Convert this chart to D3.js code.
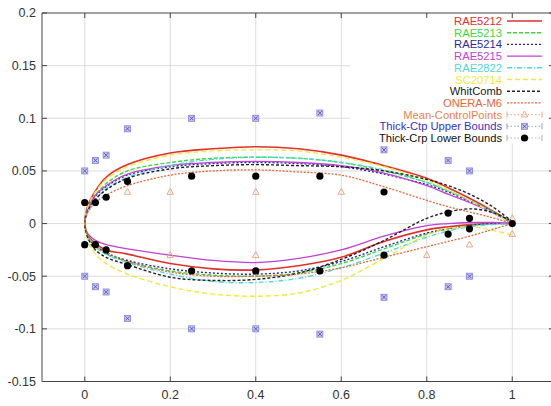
<!DOCTYPE html>
<html>
<head>
<meta charset="utf-8">
<script src="https://cdn.jsdelivr.net/npm/d3@7/dist/d3.min.js"></script>
<style>
  html, body { margin: 0; padding: 0; background: #fff; }
  svg { display: block; font-family: "Liberation Sans", Arial, sans-serif; }
</style>
</head>
<body>
<svg id="chart" width="551" height="406"></svg>
<script>
// chord stations shared by every section (x/c)
const stations = [0, 0.005, 0.0125, 0.025, 0.05, 0.1, 0.2, 0.3, 0.4, 0.5, 0.6, 0.7, 0.8, 0.85, 0.9, 0.95, 1];

// upper / lower surfaces
const rae5212Up = [0, 0.014, 0.022, 0.031, 0.044, 0.056, 0.067, 0.071, 0.073, 0.071, 0.065, 0.055, 0.043, 0.034, 0.024, 0.013, 0.001];
const rae5212Lo = [0, -0.009, -0.014, -0.019, -0.025, -0.029, -0.038, -0.043, -0.044, -0.040, -0.032, -0.017, -0.006, -0.003, -0.001, 0, 0];
const rae5213Up = [0, 0.012, 0.019, 0.027, 0.038, 0.050, 0.058, 0.062, 0.063, 0.062, 0.058, 0.050, 0.039, 0.031, 0.022, 0.012, 0.001];
const rae5213Lo = [0, -0.010, -0.016, -0.022, -0.029, -0.036, -0.045, -0.049, -0.050, -0.047, -0.038, -0.024, -0.010, -0.005, -0.002, 0, 0];
const rae5214Up = [0, 0.011, 0.018, 0.026, 0.035, 0.046, 0.054, 0.057, 0.058, 0.057, 0.054, 0.047, 0.037, 0.030, 0.021, 0.012, 0.001];
const rae5214Lo = [0, -0.010, -0.016, -0.021, -0.028, -0.035, -0.043, -0.047, -0.048, -0.045, -0.036, -0.022, -0.009, -0.005, -0.002, 0, 0];
const rae5215Up = [0, 0.012, 0.019, 0.027, 0.036, 0.047, 0.055, 0.058, 0.059, 0.058, 0.055, 0.048, 0.036, 0.028, 0.020, 0.011, 0];
const rae5215Lo = [0, -0.008, -0.012, -0.016, -0.020, -0.024, -0.030, -0.035, -0.037, -0.033, -0.025, -0.012, -0.002, 0, 0.001, 0.001, 0];
const rae2822Up = [0, 0.010, 0.016, 0.023, 0.033, 0.044, 0.055, 0.061, 0.063, 0.062, 0.058, 0.051, 0.039, 0.031, 0.022, 0.012, 0.001];
const rae2822Lo = [0, -0.009, -0.015, -0.021, -0.029, -0.037, -0.048, -0.055, -0.056, -0.052, -0.042, -0.028, -0.013, -0.007, -0.003, -0.001, 0];
const sc20714Up = [0, 0.013, 0.021, 0.030, 0.042, 0.054, 0.065, 0.069, 0.070, 0.069, 0.063, 0.054, 0.041, 0.032, 0.022, 0.011, 0];
const sc20714Lo = [0, -0.013, -0.021, -0.029, -0.038, -0.048, -0.060, -0.067, -0.069, -0.066, -0.054, -0.033, -0.011, -0.005, -0.003, -0.006, -0.011];
const whitUp = [0, 0.010, 0.016, 0.023, 0.032, 0.043, 0.052, 0.055, 0.056, 0.055, 0.054, 0.050, 0.042, 0.036, 0.028, 0.017, 0.002];
const whitLo = [0, -0.011, -0.018, -0.025, -0.032, -0.039, -0.051, -0.054, -0.053, -0.047, -0.034, -0.016, 0.005, 0.011, 0.014, 0.011, 0.002];
const oneraUp = [0, 0.009, 0.014, 0.020, 0.027, 0.036, 0.046, 0.050, 0.051, 0.049, 0.046, 0.035, 0.022, 0.016, 0.011, 0.006, 0];
const oneraLo = [0, -0.009, -0.014, -0.020, -0.027, -0.036, -0.046, -0.050, -0.050, -0.048, -0.042, -0.032, -0.022, -0.017, -0.012, -0.006, 0];

// control points
const meanX = [0.1, 0.2, 0.4, 0.6, 1, 0.2, 0.4, 0.8, 0.9, 1];
const meanY = [0.03, 0.03, 0.03, 0.03, 0.005, -0.03, -0.03, -0.03, -0.02, -0.01];
const upperBX = [0, 0.025, 0.05, 0.1, 0.25, 0.4, 0.55, 0.7, 0.85, 0.9, 0, 0.025, 0.05, 0.1, 0.25, 0.4, 0.55, 0.7, 0.85, 0.9];
const upperBY = [0.05, 0.06, 0.065, 0.09, 0.1, 0.1, 0.105, 0.07, 0.06, 0.05, -0.05, -0.06, -0.065, -0.09, -0.1, -0.1, -0.105, -0.07, -0.06, -0.05];
const lowerBX = [0, 0.025, 0.05, 0.1, 0.25, 0.4, 0.55, 0.7, 0.85, 0.9, 1, 0, 0.025, 0.05, 0.1, 0.25, 0.4, 0.55, 0.7, 0.85, 0.9];
const lowerBY = [0.02, 0.02, 0.025, 0.04, 0.045, 0.045, 0.045, 0.03, 0.01, 0.005, 0, -0.02, -0.02, -0.025, -0.04, -0.045, -0.045, -0.045, -0.03, -0.01, -0.005];

const xTicks = [0, 0.2, 0.4, 0.6, 0.8, 1];
const yTicks = [-0.15, -0.1, -0.05, 0, 0.05, 0.1, 0.15, 0.2];

const sections = [
  { name: 'RAE5212', up: rae5212Up, lo: rae5212Lo, color: '#e2302c', dash: null, w: 1.6 },
  { name: 'RAE5213', up: rae5213Up, lo: rae5213Lo, color: '#3ed83e', dash: '4,2', w: 1.4 },
  { name: 'RAE5214', up: rae5214Up, lo: rae5214Lo, color: '#262aa0', dash: '2,2', w: 1.4 },
  { name: 'RAE5215', up: rae5215Up, lo: rae5215Lo, color: '#c040d8', dash: null, w: 1.3 },
  { name: 'RAE2822', up: rae2822Up, lo: rae2822Lo, color: '#50d8e0', dash: '5,2,1,2', w: 1.4 },
  { name: 'SC20714', up: sc20714Up, lo: sc20714Lo, color: '#f2e838', dash: '5,3', w: 1.4 },
  { name: 'WhitComb', up: whitUp, lo: whitLo, color: '#222222', dash: '3,2', w: 1.4 },
  { name: 'ONERA-M6', up: oneraUp, lo: oneraLo, color: '#e06a38', dash: '2,1.5', w: 1.3 },
];

const svg = d3.select('#chart');
const x = d3.scaleLinear().domain([-0.1, 1.1]).range([42, 555]);
const y = d3.scaleLinear().domain([-0.15, 0.2]).range([381.5, 13]);

// grid
const grid = svg.append('g').attr('stroke', '#dcdcdc').attr('stroke-width', 1);
xTicks.forEach((t) => {
  grid.append('line').attr('x1', x(t)).attr('x2', x(t)).attr('y1', y(0.2)).attr('y2', y(-0.15));
});
yTicks.slice(1, -1).forEach((t) => {
  grid.append('line').attr('x1', x(-0.1)).attr('x2', x(1.1)).attr('y1', y(t)).attr('y2', y(t));
});

// airfoils: upper from TE to LE, then lower back to TE
const line = d3
  .line()
  .x((d) => x(d[0]))
  .y((d) => y(d[1]))
  .curve(d3.curveCatmullRom.alpha(0.5));

sections.forEach((s) => {
  const pts = stations.map((sx, i) => [sx, s.up[i]]).reverse();
  stations.forEach((sx, i) => {
    if (i > 0) pts.push([sx, s.lo[i]]);
  });
  svg
    .append('path')
    .attr('d', line(pts))
    .attr('fill', 'none')
    .attr('stroke', s.color)
    .attr('stroke-width', s.w)
    .attr('stroke-dasharray', s.dash);
});

// markers
function triangle(g, cx, cy) {
  g.append('path')
    .attr('d', `M${cx},${cy - 3.6}L${cx + 3.2},${cy + 2.3}L${cx - 3.2},${cy + 2.3}Z`)
    .attr('fill', 'none')
    .attr('stroke', '#eba888')
    .attr('stroke-width', 1);
}
function boxX(g, cx, cy) {
  g.append('rect')
    .attr('x', cx - 3).attr('y', cy - 3).attr('width', 6).attr('height', 6)
    .attr('fill', '#c8c8f4').attr('stroke', '#8080d8').attr('stroke-width', 0.8);
  g.append('path')
    .attr('d', `M${cx - 2},${cy - 2}L${cx + 2},${cy + 2}M${cx - 2},${cy + 2}L${cx + 2},${cy - 2}`)
    .attr('stroke', '#5050bc').attr('stroke-width', 0.9);
}
function dot(g, cx, cy) {
  g.append('circle').attr('cx', cx).attr('cy', cy).attr('r', 3.6).attr('fill', '#000');
}

const marks = svg.append('g');
meanX.forEach((mx, i) => triangle(marks, x(mx), y(meanY[i])));
upperBX.forEach((bx, i) => boxX(marks, x(bx), y(upperBY[i])));
lowerBX.forEach((bx, i) => dot(marks, x(bx), y(lowerBY[i])));

// legend (opaque box over the grid)
svg.append('rect').attr('x', 350).attr('y', 13.5).attr('width', 201).attr('height', 130).attr('fill', '#fff');

const legendItems = sections.map((s) => ({ name: s.name, color: s.color, textColor: s.color, dash: s.dash, w: s.w }));
legendItems[6].textColor = '#1a1a1a';
legendItems.push({ name: 'Mean-ControlPoints', color: '#eba888', textColor: '#e8834e', marker: triangle });
legendItems.push({ name: 'Thick-Ctp Upper Bounds', color: '#9a9ae0', textColor: '#3434bc', marker: boxX });
legendItems.push({ name: 'Thick-Crp Lower Bounds', color: '#b0b0b0', textColor: '#111', marker: dot });

const legend = svg.append('g');
legendItems.forEach((d, i) => {
  const ly = 21 + i * 11.7;
  legend
    .append('text')
    .attr('x', 502)
    .attr('y', ly + 4)
    .attr('text-anchor', 'end')
    .attr('font-size', 11.2)
    .attr('fill', d.textColor)
    .text(d.name);
  if (d.marker) {
    legend.append('line').attr('x1', 507).attr('x2', 542).attr('y1', ly).attr('y2', ly)
      .attr('stroke', d.color).attr('stroke-width', 1).attr('stroke-dasharray', '1.5,2');
    legend.append('path').attr('d', `M507,${ly - 3}V${ly + 3}M542,${ly - 3}V${ly + 3}`)
      .attr('stroke', d.color).attr('stroke-width', 1);
    d.marker(legend, 524.5, ly);
  } else {
    legend.append('line').attr('x1', 507).attr('x2', 542).attr('y1', ly).attr('y2', ly)
      .attr('stroke', d.color).attr('stroke-width', d.w).attr('stroke-dasharray', d.dash);
  }
});

// frame and ticks
const frame = svg.append('g').attr('stroke', '#444').attr('stroke-width', 1).attr('fill', 'none');
frame.append('path').attr('d', `M${x(1.1)},${y(0.2)}H${x(-0.1)}V${y(-0.15)}H${x(1.1)}V${y(0.2)}`);
xTicks.forEach((t) => {
  frame.append('line').attr('x1', x(t)).attr('x2', x(t)).attr('y1', y(-0.15)).attr('y2', y(-0.15) - 5);
  frame.append('line').attr('x1', x(t)).attr('x2', x(t)).attr('y1', y(0.2)).attr('y2', y(0.2) + 5);
});
yTicks.forEach((t) => {
  frame.append('line').attr('x1', x(-0.1)).attr('x2', x(-0.1) + 5).attr('y1', y(t)).attr('y2', y(t));
  frame.append('line').attr('x1', x(1.1)).attr('x2', x(1.1) - 6).attr('y1', y(t)).attr('y2', y(t));
});

// tick labels
const fmt = (v) => String(+v.toFixed(2));
svg.append('g').selectAll('text').data(yTicks).join('text')
  .attr('x', 36).attr('y', (d) => y(d) + 4.3)
  .attr('text-anchor', 'end').attr('font-size', 12.5).attr('fill', '#333')
  .text(fmt);
svg.append('g').selectAll('text').data(xTicks).join('text')
  .attr('x', (d) => x(d)).attr('y', 399)
  .attr('text-anchor', 'middle').attr('font-size', 12.5).attr('fill', '#333')
  .text(fmt);
</script>
</body>
</html>
